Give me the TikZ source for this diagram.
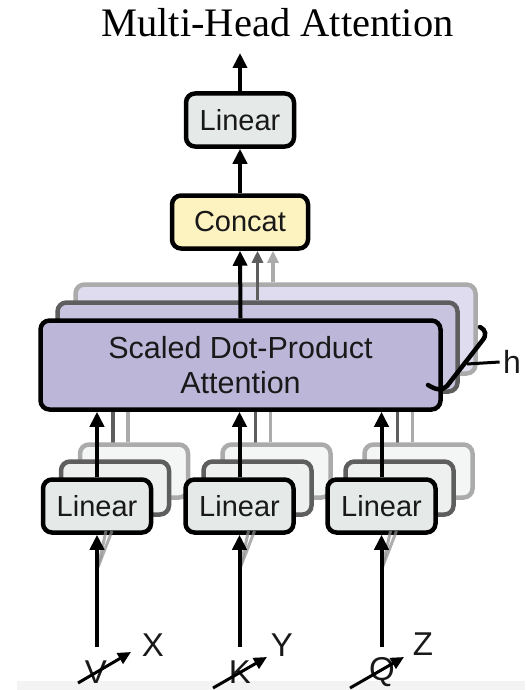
\documentclass[tikz,border=0pt]{standalone}
\usepackage{fontspec}
\setmainfont{Liberation Serif}
\newfontfamily\hv{Liberation Sans}
\usetikzlibrary{arrows.meta}
\definecolor{linfill}{HTML}{E5E9E8}
\definecolor{catfill}{HTML}{FDF3C0}
\definecolor{sdpfill}{HTML}{BCB6D8}
\definecolor{sdpfillb}{HTML}{C8C4E0}
\definecolor{sdpfillc}{HTML}{DEDCEE}
\definecolor{linfillb}{HTML}{EDF0EF}
\definecolor{linfillc}{HTML}{F4F6F5}
\definecolor{darkg}{HTML}{5E5E5E}
\definecolor{lightg}{HTML}{ABABAB}
\definecolor{band}{HTML}{F3F3F3}
\tikzset{
  box/.style={draw=black, line width=4.5pt, rounded corners=9pt, inner sep=0pt},
  boxtxt/.style={font=\hv\fontsize{29}{35}\selectfont, text=black!90},
  linbox/.style={box, boxtxt, fill=linfill, minimum width=108pt, minimum height=53pt},
  linboxb/.style={box, draw=darkg, fill=linfillb, minimum width=108pt, minimum height=53pt},
  linboxc/.style={box, draw=lightg, fill=linfillc, minimum width=108pt, minimum height=53pt},
  catbox/.style={box, boxtxt, fill=catfill, minimum width=136pt, minimum height=53pt},
  sdpbox/.style={box, font=\hv\fontsize{30.5}{35}\selectfont, text=black!90, fill=sdpfill, minimum width=400pt, minimum height=89pt, align=center},
  sdpboxb/.style={box, draw=darkg, fill=sdpfillb, minimum width=400pt, minimum height=89pt},
  sdpboxc/.style={box, draw=lightg, fill=sdpfillc, minimum width=400pt, minimum height=89pt},
  arr/.style={line width=4pt, -{Triangle[length=15pt,width=14pt]}},
  arrdark/.style={line width=3.5pt, draw=darkg, -{Triangle[length=12pt,width=11pt]}},
  arrlight/.style={line width=3.5pt, draw=lightg, -{Triangle[length=12pt,width=11pt]}},
  ghostdark/.style={line width=3.5pt, draw=darkg},
  ghostlight/.style={line width=3.5pt, draw=lightg},
  slant/.style={line width=3pt, draw=black!45, opacity=0.7},
  lbl/.style={font=\hv\fontsize{33}{38}\selectfont, text=black!90, inner sep=0pt},
  cross/.style={line width=3pt, -{Triangle[length=13pt,width=12pt]}},
}
\begin{document}
\begin{tikzpicture}[x=1pt,y=-1pt]
\useasboundingbox (0,0) rectangle (525,690);
\fill[band] (17,681) rectangle (525,690);

% title
\node[anchor=base, font=\fontsize{40.5}{45}\selectfont] (title) at (277.5,37) {Multi-Head Attention};

% scaled dot-product attention stack
\node[sdpboxc] (sdpc) at (275.5,329) {};
\node[sdpboxb] (sdpb) at (257.5,347) {};

% concat and top linear
\node[catbox] (concat) at (240,222) {Concat};
\node[linbox] (lout) at (240,120) {Linear};
\coordinate (out) at (240,53);

\draw[arrlight] ([xshift=-2.5pt]sdpc.north) -- ([xshift=-2.5pt]sdpc.north |- concat.south);
\draw[arrdark] (sdpb.north) -- (sdpb.north |- concat.south);

% ghost lines from back linear copies
\foreach \x in {97,239.5,381.5}{
  \draw[ghostlight] (\x+31,442) -- (\x+31,412);
  \draw[ghostdark] (\x+16,458) -- (\x+16,412);
}

\node[sdpbox] (sdp) at (240.5,365) {Scaled Dot-Product\\Attention};
\draw[arr] (sdp.north) -- (concat.south);
\draw[arr] (concat.north) -- (lout.south);
\draw[arr] (lout.north) -- (out);

% h brace
\draw[line width=4.5pt, line cap=round] (428,385) .. controls (436,390) and (442,391) .. (447,386) -- (482,341) .. controls (487,335) and (486,330) .. (480,327);
\node[font=\hv\fontsize{32}{36}\selectfont, text=black!90] (h) at (512,362) {h};
\draw[line width=3pt] (467,364) -- (h.west);

% linear stacks
\foreach \n/\x/\lab/\big/\bx/\by/\s/\sx/\sy/\tx/\ty/\ex/\ey in
  {v/97/X/V/96/672/78/78/683/131/652/153/645,
   k/239.5/Y/K/240/672.5/213/213/688/267/657/282/645,
   q/381.5/Z/Q/382/672.5/350/350/688/404/657/423/644}{
  \node[linboxc] (\n c) at (\x+37,471) {};
  \node[linboxb] (\n b) at (\x+18,488) {};
  \node[linbox] (\n) at (\x,506) {Linear};
  \draw[arr] (\n.north) -- (\n.north |- sdp.south);
  \coordinate (\n in) at (\x,647);
  \coordinate (\n s) at (\x+1,567);
  \draw[slant] (\n s) -- (\x+15,531);
  \draw[slant] (\n s) -- (\x+9,531);
  \draw[arr] (\n in) -- (\n.south);
  \node[lbl] (\n big) at (\bx,\by) {\big};
  \node[lbl] (\n lab) at (\ex,\ey) {\lab};
  \coordinate (\n a) at (\sx,\sy);
  \coordinate (\n b2) at (\tx,\ty);
  \draw[cross] (\n a) -- (\n b2);
}
\end{tikzpicture}
\end{document}
